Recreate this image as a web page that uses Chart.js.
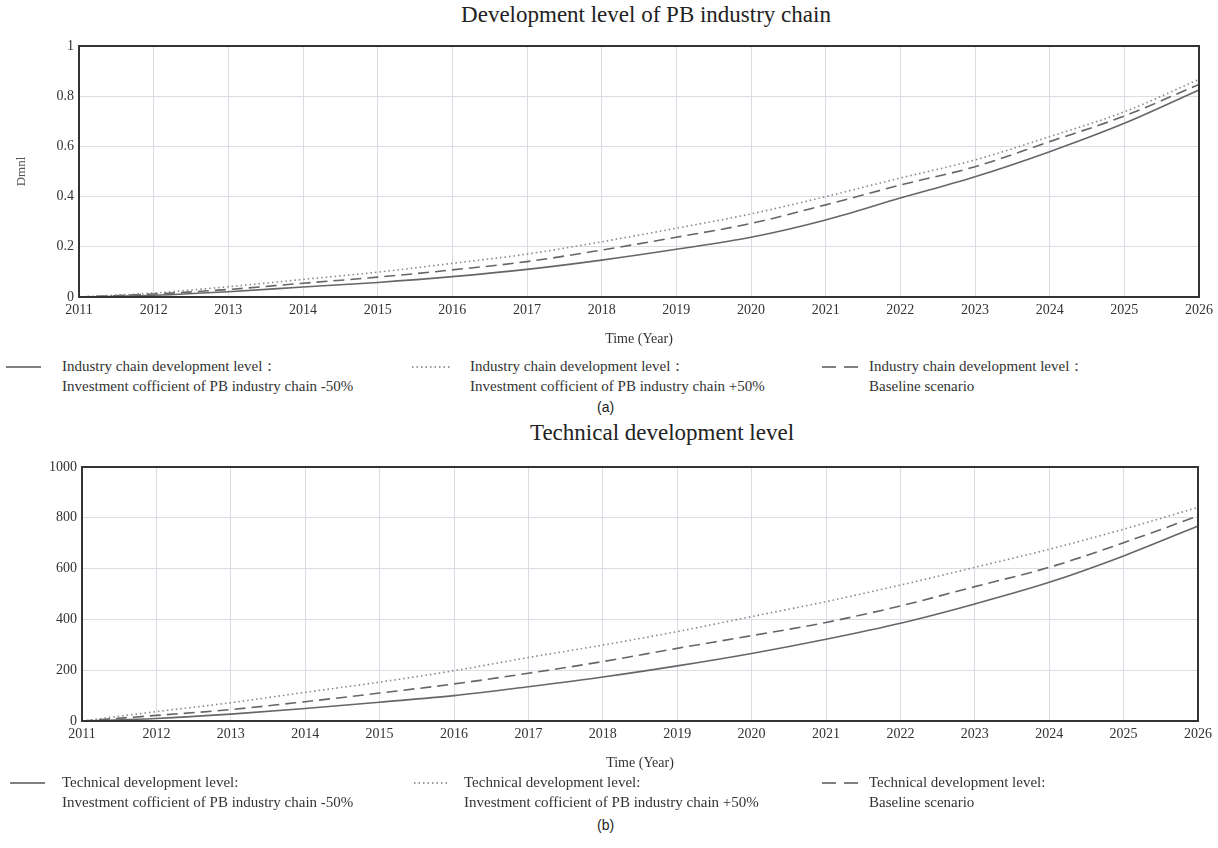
<!DOCTYPE html>
<html>
<head>
<meta charset="utf-8">
<script src="https://cdn.jsdelivr.net/npm/chart.js@4.4.1/dist/chart.umd.min.js"></script>
<style>
    body { margin: 0; background: #fff; width: 1218px; height: 848px; position: relative; overflow: hidden; font-family: 'Liberation Serif', serif; color: #333; }
    .title { position: absolute; transform: translateX(-50%); white-space: nowrap; font-size: 23px; color: #222; }
    .chart-box { position: absolute; left: 0; width: 1218px; }
    .legend-item { position: absolute; font-size: 15px; line-height: 20px; color: #333; white-space: nowrap; }
    .legend-line { position: absolute; }
    .caption { position: absolute; font-family: 'Liberation Sans', Arial, sans-serif; font-size: 14px; color: #222; }
</style>
</head>
<body>

<div class="title" style="left: 646px; top: 2px;">Development level of PB industry chain</div>
<div class="chart-box" style="top: 30px; height: 322px;"><canvas id="chain-chart"></canvas></div>

<svg class="legend-line" style="left: 4px; top: 362px;" width="40" height="10"><line x1="2" y1="5" x2="37" y2="5" stroke="#555" stroke-width="1.5"/></svg>
<div class="legend-item" style="left: 62px; top: 356px;">Industry chain development level：<br>Investment cofficient of PB industry chain -50%</div>
<svg class="legend-line" style="left: 410px; top: 362px;" width="44" height="10"><line x1="2" y1="5" x2="40" y2="5" stroke="#777" stroke-width="1.5" stroke-dasharray="1.5 3"/></svg>
<div class="legend-item" style="left: 470px; top: 356px;">Industry chain development level：<br>Investment cofficient of PB industry chain +50%</div>
<svg class="legend-line" style="left: 820px; top: 362px;" width="44" height="10"><line x1="2" y1="5" x2="38" y2="5" stroke="#555" stroke-width="1.5" stroke-dasharray="14 8"/></svg>
<div class="legend-item" style="left: 869px; top: 356px;">Industry chain development level：<br>Baseline scenario</div>
<div class="caption" style="left: 597px; top: 399px;">(a)</div>

<div class="title" style="left: 662px; top: 420px;">Technical development level</div>
<div class="chart-box" style="top: 450px; height: 326px;"><canvas id="tech-chart"></canvas></div>

<svg class="legend-line" style="left: 8px; top: 778px;" width="40" height="10"><line x1="2" y1="5" x2="37" y2="5" stroke="#555" stroke-width="1.5"/></svg>
<div class="legend-item" style="left: 62px; top: 772px;">Technical development level:<br>Investment cofficient of PB industry chain -50%</div>
<svg class="legend-line" style="left: 412px; top: 778px;" width="44" height="10"><line x1="2" y1="5" x2="38" y2="5" stroke="#777" stroke-width="1.5" stroke-dasharray="1.5 3"/></svg>
<div class="legend-item" style="left: 464px; top: 772px;">Technical development level:<br>Investment cofficient of PB industry chain +50%</div>
<svg class="legend-line" style="left: 820px; top: 778px;" width="44" height="10"><line x1="2" y1="5" x2="38" y2="5" stroke="#555" stroke-width="1.5" stroke-dasharray="14 8"/></svg>
<div class="legend-item" style="left: 869px; top: 772px;">Technical development level:<br>Baseline scenario</div>
<div class="caption" style="left: 597px; top: 817px;">(b)</div>

<script>
const years = ['2011', '2012', '2013', '2014', '2015', '2016', '2017', '2018',
    '2019', '2020', '2021', '2022', '2023', '2024', '2025', '2026'];

// Industry chain development level (Dmnl)
const chainLow = [0, 0.007, 0.021, 0.040, 0.058, 0.081, 0.110, 0.147, 0.190, 0.238, 0.307, 0.394, 0.479, 0.579, 0.692, 0.825];
const chainHigh = [0, 0.016, 0.041, 0.070, 0.099, 0.134, 0.171, 0.220, 0.274, 0.331, 0.400, 0.474, 0.546, 0.639, 0.738, 0.867];
const chainBase = [0, 0.012, 0.030, 0.055, 0.079, 0.108, 0.141, 0.187, 0.238, 0.293, 0.367, 0.446, 0.519, 0.619, 0.721, 0.847];

// Technical development level
const techLow = [0, 10, 27, 49, 74, 100, 135, 173, 217, 266, 322, 385, 461, 546, 650, 768];
const techHigh = [0, 37, 72, 113, 153, 198, 250, 299, 352, 411, 470, 535, 605, 676, 755, 841];
const techBase = [0, 22, 45, 76, 110, 146, 188, 234, 286, 336, 388, 453, 529, 605, 702, 807];

const chainTicks = { min: 0, max: 1, step: 0.2 };
const techTicks = { min: 0, max: 1000, step: 200 };

const serif = 'Liberation Serif';

// draws the dark frame round the plot area
const framePlugin = {
    id: 'frame',
    afterDraw(chart) {
        const { ctx, chartArea } = chart;
        ctx.save();
        ctx.strokeStyle = '#333';
        ctx.lineWidth = 2;
        ctx.strokeRect(chartArea.left, chartArea.top, chartArea.right - chartArea.left, chartArea.bottom - chartArea.top);
        ctx.restore();
    }
};

function makeDatasets(low, high, base) {
    return [{
        label: '-50%',
        data: low,
        borderColor: '#666',
        borderWidth: 1.6
    }, {
        label: '+50%',
        data: high,
        borderColor: '#888',
        borderWidth: 1.6,
        borderDash: [1.5, 3]
    }, {
        label: 'Baseline',
        data: base,
        borderColor: '#666',
        borderWidth: 1.6,
        borderDash: [11, 6]
    }];
}

function makeChart(id, datasets, ticks, opts) {
    const ctx = document.getElementById(id).getContext('2d');
    return new Chart(ctx, {
        type: 'line',
        data: { labels: years, datasets: datasets },
        options: {
            responsive: true,
            maintainAspectRatio: false,
            animation: false,
            events: [],
            elements: {
                point: { radius: 0 },
                line: { cubicInterpolationMode: 'monotone', fill: false }
            },
            layout: { padding: { top: opts.padTop, right: opts.padRight, left: 0, bottom: 0 } },
            plugins: { legend: { display: false }, tooltip: { enabled: false } },
            scales: {
                x: {
                    type: 'category',
                    offset: false,
                    grid: { color: '#d9dde4', lineWidth: 1, drawTicks: false },
                    border: { display: false },
                    ticks: { color: '#333', font: { family: serif, size: 14 }, padding: 5, maxRotation: 0, autoSkip: false },
                    title: { display: true, text: 'Time (Year)', color: '#333', font: { family: serif, size: 14 }, padding: { top: 0, bottom: 4 } },
                    afterFit(scale) { scale.height = 55; }
                },
                y: {
                    min: ticks.min,
                    max: ticks.max,
                    grid: { color: '#d9dde4', lineWidth: 1, drawTicks: false },
                    border: { display: false },
                    ticks: {
                        stepSize: ticks.step,
                        color: '#333',
                        font: { family: serif, size: 14 },
                        padding: 5,
                        callback: v => String(Math.round(v * 10) / 10)
                    },
                    title: {
                        display: !!opts.yTitle,
                        text: opts.yTitle || '',
                        color: '#555',
                        font: { family: serif, size: 13 },
                        padding: { top: 14, bottom: 0 }
                    },
                    afterFit(scale) { scale.width = opts.yWidth; }
                }
            }
        },
        plugins: [framePlugin]
    });
}

makeChart('chain-chart', makeDatasets(chainLow, chainHigh, chainBase), chainTicks,
    { padTop: 16, padRight: 19, yWidth: 79, yTitle: 'Dmnl' });
makeChart('tech-chart', makeDatasets(techLow, techHigh, techBase), techTicks,
    { padTop: 17, padRight: 20, yWidth: 82 });
</script>
</body>
</html>
